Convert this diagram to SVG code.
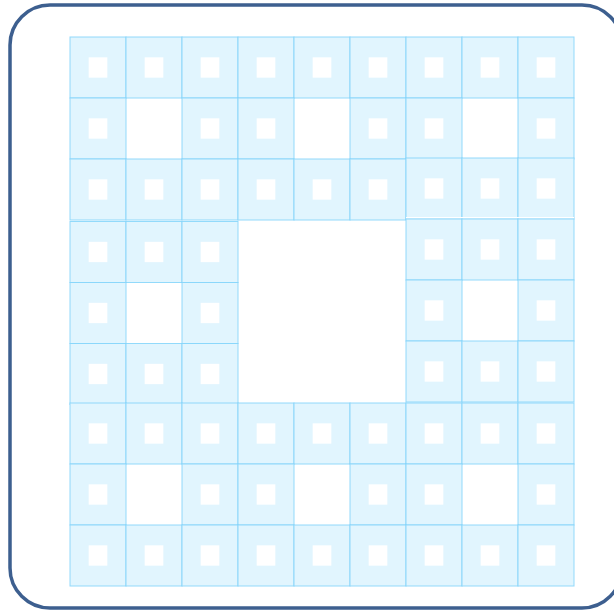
<svg xmlns="http://www.w3.org/2000/svg" xmlns:xlink="http://www.w3.org/1999/xlink" width="614" height="612" viewBox="0 0 614 612">
<style>
.c{fill:#e1f5fe;stroke:#81d4fa;stroke-width:1;stroke-opacity:0.85}
.h{fill:#ffffff}
.frame{fill:#ffffff;stroke:#3d5f8f;stroke-width:3.5}
</style>
<defs>
<g id="cell"><rect class="c" width="56" height="61"/><rect class="h" x="18.67" y="20.33" width="18.67" height="20.33"/></g>
</defs>
<rect class="frame" x="10" y="5" width="612" height="603" rx="40" ry="40"/>
<g id="carpet">
<g id="row0">
<use xlink:href="#cell" x="70" y="37"/><use xlink:href="#cell" x="126" y="37"/><use xlink:href="#cell" x="182" y="37"/><use xlink:href="#cell" x="238" y="37"/><use xlink:href="#cell" x="294" y="37"/><use xlink:href="#cell" x="350" y="37"/><use xlink:href="#cell" x="406" y="37"/><use xlink:href="#cell" x="462" y="37"/><use xlink:href="#cell" x="518" y="37"/>
</g>
<g id="row1">
<use xlink:href="#cell" x="70" y="98"/><use xlink:href="#cell" x="182" y="98"/><use xlink:href="#cell" x="238" y="98"/><use xlink:href="#cell" x="350" y="98"/><use xlink:href="#cell" x="406" y="98"/><use xlink:href="#cell" x="518" y="98"/>
</g>
<g id="row2">
<use xlink:href="#cell" x="70" y="159"/><use xlink:href="#cell" x="126" y="159"/><use xlink:href="#cell" x="182" y="159"/><use xlink:href="#cell" x="238" y="159"/><use xlink:href="#cell" x="294" y="159"/><use xlink:href="#cell" x="350" y="159"/><use xlink:href="#cell" x="406" y="158"/><use xlink:href="#cell" x="462" y="158"/><use xlink:href="#cell" x="518" y="158"/>
</g>
<g id="midleft" transform="translate(0,1.5)">
<use xlink:href="#cell" x="70" y="220"/><use xlink:href="#cell" x="126" y="220"/><use xlink:href="#cell" x="182" y="220"/>
<use xlink:href="#cell" x="70" y="281"/><use xlink:href="#cell" x="182" y="281"/>
<use xlink:href="#cell" x="70" y="342"/><use xlink:href="#cell" x="126" y="342"/><use xlink:href="#cell" x="182" y="342"/>
</g>
<g id="midright" transform="translate(0,-1)">
<rect x="406" y="218" width="168" height="1.5" fill="#ffffff"/>
<use xlink:href="#cell" x="406" y="220"/><use xlink:href="#cell" x="462" y="220"/><use xlink:href="#cell" x="518" y="220"/>
<use xlink:href="#cell" x="406" y="281"/><use xlink:href="#cell" x="518" y="281"/>
<use xlink:href="#cell" x="406" y="342"/><use xlink:href="#cell" x="462" y="342"/><use xlink:href="#cell" x="518" y="342"/>
</g>
<g id="row6">
<use xlink:href="#cell" x="70" y="403"/><use xlink:href="#cell" x="126" y="403"/><use xlink:href="#cell" x="182" y="403"/><use xlink:href="#cell" x="238" y="403"/><use xlink:href="#cell" x="294" y="403"/><use xlink:href="#cell" x="350" y="403"/><use xlink:href="#cell" x="406" y="403"/><use xlink:href="#cell" x="462" y="403"/><use xlink:href="#cell" x="518" y="403"/>
</g>
<g id="row7">
<use xlink:href="#cell" x="70" y="464"/><use xlink:href="#cell" x="182" y="464"/><use xlink:href="#cell" x="238" y="464"/><use xlink:href="#cell" x="350" y="464"/><use xlink:href="#cell" x="406" y="464"/><use xlink:href="#cell" x="518" y="464"/>
</g>
<g id="row8">
<use xlink:href="#cell" x="70" y="525"/><use xlink:href="#cell" x="126" y="525"/><use xlink:href="#cell" x="182" y="525"/><use xlink:href="#cell" x="238" y="525"/><use xlink:href="#cell" x="294" y="525"/><use xlink:href="#cell" x="350" y="525"/><use xlink:href="#cell" x="406" y="525"/><use xlink:href="#cell" x="462" y="525"/><use xlink:href="#cell" x="518" y="525"/>
</g>
</g>
</svg>
